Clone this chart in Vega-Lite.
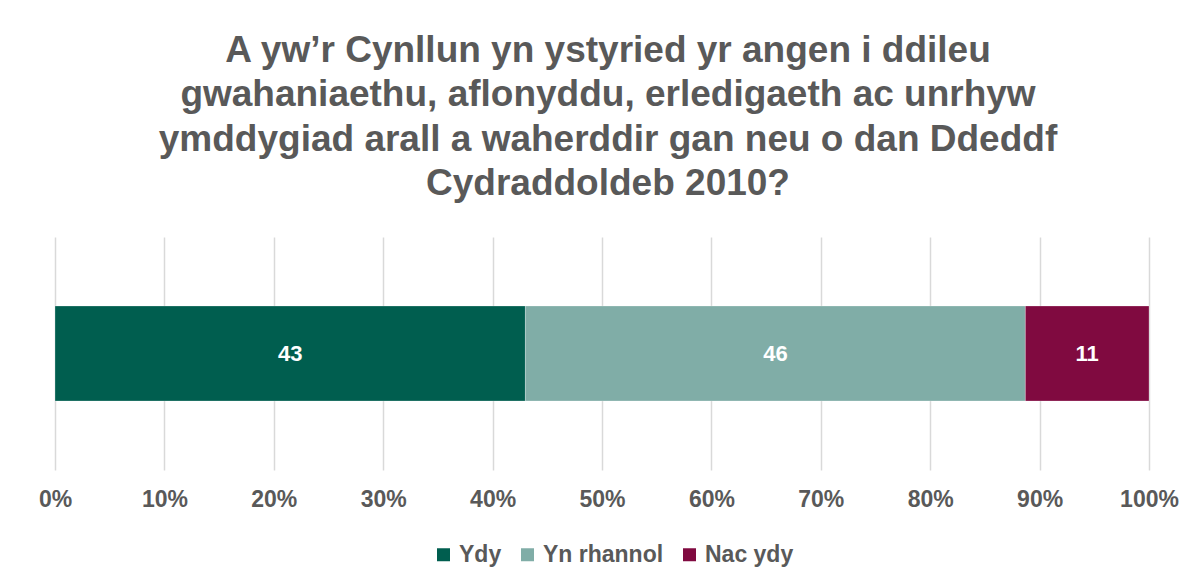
{
  "$schema": "https://vega.github.io/schema/vega-lite/v6.json",
  "width": 1094,
  "height": 233,
  "autosize": {"type": "none"},
  "padding": {"left": 55, "top": 237, "right": 45, "bottom": 110},
  "background": "white",
  "config": {
    "font": "Liberation Sans",
    "view": {"stroke": null}
  },
  "title": {
    "text": ["A yw’r Cynllun yn ystyried yr angen i ddileu", "gwahaniaethu, aflonyddu, erledigaeth ac unrhyw", "ymddygiad arall a waherddir gan neu o dan Ddeddf", "Cydraddoldeb 2010?"],
    "fontSize": 37,
    "fontWeight": "bold",
    "color": "#595959",
    "lineHeight": 44.5,
    "anchor": "middle",
    "dx": 6,
    "offset": 34
  },
  "data": {
    "values": [
      {"q": "Q", "category": "Ydy", "value": 43.0, "order": 1},
      {"q": "Q", "category": "Yn rhannol", "value": 45.7, "order": 2},
      {"q": "Q", "category": "Nac ydy", "value": 11.3, "order": 3}
    ]
  },
  "transform": [
    {"stack": "value", "groupby": ["q"], "sort": [{"field": "order"}], "offset": "normalize", "as": ["x0", "x1"]},
    {"calculate": "(datum.x0 + datum.x1) / 2", "as": "xm"}
  ],
  "encoding": {
    "y": {"field": "q", "type": "nominal", "axis": null, "scale": {"paddingInner": 0, "paddingOuter": 0.726}}
  },
  "layer": [
    {
      "mark": {"type": "bar", "stroke": "white", "strokeWidth": 0.5, "strokeOpacity": 0.5},
      "encoding": {
        "x": {"field": "x0", "type": "quantitative", "scale": {"domain": [0, 1], "nice": false},
          "axis": {"format": "%", "values": [0, 0.1, 0.2, 0.3, 0.4, 0.5, 0.6, 0.7, 0.8, 0.9, 1], "title": null, "domain": false, "ticks": false, "grid": true, "gridColor": "#D9D9D9", "gridWidth": 1.5, "labelFontSize": 23, "labelFontWeight": "bold", "labelColor": "#595959", "labelPadding": 18, "labelFlush": false}},
        "x2": {"field": "x1"},
        "color": {"field": "category", "type": "nominal", "sort": ["Ydy", "Yn rhannol", "Nac ydy"],
          "scale": {"domain": ["Ydy", "Yn rhannol", "Nac ydy"], "range": ["#005E4F", "#80ADA7", "#800A40"]},
          "legend": {"title": null, "orient": "none", "legendX": 377, "legendY": 306, "padding": 0, "direction": "horizontal", "symbolType": "square", "symbolSize": 169, "symbolStrokeWidth": 0, "labelFontSize": 23, "labelFontWeight": "bold", "labelColor": "#595959", "labelOffset": 4, "columnPadding": 14}}
      }
    },
    {
      "mark": {"type": "text", "color": "white", "fontSize": 22, "fontWeight": "bold"},
      "encoding": {
        "x": {"field": "xm", "type": "quantitative"},
        "text": {"field": "value", "type": "quantitative", "format": ".0f"}
      }
    }
  ]
}
